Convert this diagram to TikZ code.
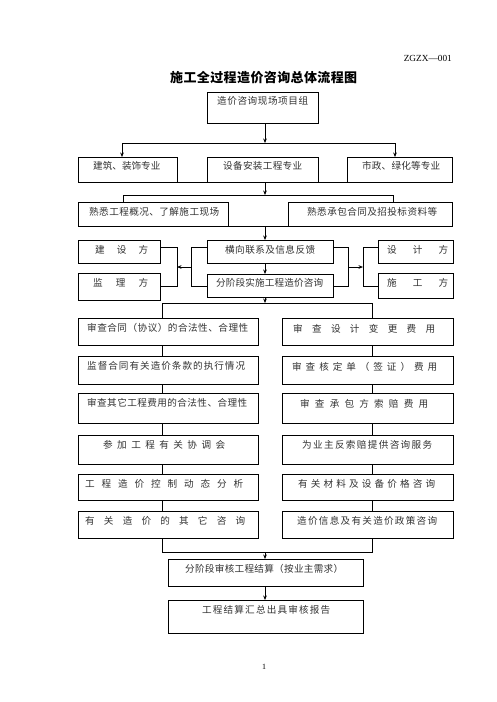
\documentclass[tikz,border=0pt]{standalone}
\usepackage{fontspec}
\setmainfont{Liberation Serif}
\newfontfamily\cjk{Noto Sans CJK SC}
\usetikzlibrary{arrows.meta}
\def\spreadaux#1#2\spreadend{#1\ifx\relax#2\relax\else\hfill\spreadaux#2\spreadend\fi}
\newcommand\spread[2]{\makebox[#1][s]{\spreadaux#2\spreadend}}
\tikzset{
  box/.style={draw, line width=0.7pt, inner sep=0pt, anchor=north west},
  txt/.style={inner sep=0pt, anchor=west, font=\cjk\fontsize{9.6}{11}\selectfont, text=black!80},
  ln/.style={line width=0.7pt},
  arr/.style={ln, -{Stealth[length=4.5pt,width=3.6pt]}},
}
\newcommand\bx[5]{\node[box, minimum width={#4pt-#2pt}, minimum height={#5pt-#3pt}] (#1) at (#2,#3) {};}
\newcommand\tx[5]{\node[txt] (#1) at (#2,#4) {\spread{\dimexpr#3pt-#2pt\relax}{#5}};}
\begin{document}
\begin{tikzpicture}[x=1pt,y=-1pt]
\useasboundingbox[fill=white] (0,0) rectangle (496,702);
% header
\node[anchor=east, inner sep=0pt, font=\fontsize{9.3}{11}\selectfont] (code) at (452,58) {ZGZX—001};
\node[anchor=west, inner sep=0pt, font=\cjk\bfseries\fontsize{13}{15}\selectfont] (title) at (170,78) {\spread{187pt}{施工全过程造价咨询总体流程图}};
% row 1
\bx{b1}{207}{92}{318}{123}
\tx{t1}{217}{308}{101}{造价咨询现场项目组}
% row 2
\bx{b2a}{78}{157}{177}{182}
\bx{b2b}{207}{157}{318}{182}
\bx{b2c}{347}{157}{452}{182}
\tx{t2a}{93}{160}{166}{建筑、装饰专业}
\tx{t2b}{223}{302}{166}{设备安装工程专业}
\tx{t2c}{362}{440}{166}{市政、绿化等专业}
% row 3
\bx{b3a}{78}{202}{228}{226}
\bx{b3b}{288}{202}{452}{226}
\tx{t3a}{89}{219}{212}{熟悉工程概况、了解施工现场}
\tx{t3b}{307}{437}{212}{熟悉承包合同及招投标资料等}
% row 4
\bx{m1}{207}{240}{333}{263}
\bx{m2}{207}{274}{333}{297}
\tx{tm1}{225}{315}{250}{横向联系及信息反馈}
\tx{tm2}{216}{323}{283}{分阶段实施工程造价咨询}
\bx{l1}{78}{240}{160}{263}
\bx{l2}{78}{273}{160}{300}
\tx{tl1}{95}{148}{250}{建设方}
\tx{tl2}{93}{148}{283}{监理方}
\bx{r1}{378}{240}{453}{263}
\bx{r2}{378}{273}{453}{298}
\tx{tr1}{387}{448}{250}{设计方}
\tx{tr2}{387}{448}{283}{施工方}
% columns
\bx{a1}{78}{318}{258}{345}
\bx{a2}{78}{356}{258}{384}
\bx{a3}{78}{393}{258}{423}
\bx{a4}{78}{435}{258}{464}
\bx{a5}{78}{474}{258}{500}
\bx{a6}{78}{511}{258}{538}
\bx{c1}{282}{318}{453}{345}
\bx{c2}{282}{356}{453}{384}
\bx{c3}{282}{393}{453}{423}
\bx{c4}{282}{435}{453}{464}
\bx{c5}{282}{474}{453}{500}
\bx{c6}{282}{511}{453}{538}
\tx{ta1}{87}{248}{328}{审查合同（协议）的合法性、合理性}
\tx{ta2}{87}{245}{366}{监督合同有关造价条款的执行情况}
\tx{ta3}{87}{247}{403}{审查其它工程费用的合法性、合理性}
\tx{ta4}{103}{225}{445}{参加工程有关协调会}
\tx{ta5}{85}{243}{484}{工程造价控制动态分析}
\tx{ta6}{85}{245}{521}{有关造价的其它咨询}
\tx{tc1}{293}{435}{329}{审查设计变更费用}
\tx{tc2}{292}{437}{367}{审查核定单（签证）费用}
\tx{tc3}{300}{428}{404}{审查承包方索赔费用}
\tx{tc4}{302}{432}{445}{为业主反索赔提供咨询服务}
\tx{tc5}{298}{435}{484}{有关材料及设备价格咨询}
\tx{tc6}{297}{437}{521}{造价信息及有关造价政策咨询}
% bottom
\bx{b5}{168}{559}{363}{586}
\bx{b6}{168}{600}{363}{633}
\tx{t5}{185}{343}{569}{分阶段审核工程结算（按业主需求）}
\tx{t6}{202}{330}{610}{工程结算汇总出具审核报告}
\node[inner sep=0pt, font=\fontsize{8}{10}\selectfont] (pg) at (264,667) {1};
% connectors: top
\coordinate (h1m) at (265,143);
\coordinate (h1l) at (122,143);
\coordinate (h1r) at (395,143);
\draw[arr] (b1.south -| h1m) -- (h1m);
\draw[ln] (h1l) -- (h1r);
\draw[arr] (h1l) -- (h1l |- b2a.north);
\draw[arr] (h1r) -- (h1r |- b2c.north);
\draw[ln] (b2a.south east) -- (b2b.south west);
\draw[ln] (b2b.south east) -- (b2c.south west);
\coordinate (h2m) at (265,195);
\coordinate (h2l) at (123,195);
\coordinate (h2r) at (393,195);
\draw[arr] (h2m |- b2b.south) -- (h2m);
\draw[ln] (h2l) -- (h2r);
\draw[ln] (h2l) -- (h2l |- b3a.north);
\draw[ln] (h2r) -- (h2r |- b3b.north);
\draw[ln] (b3a.south east) -- (b3b.south west);
\draw[arr] (h2m |- b3a.south) -- (h2m |- m1.north);
\draw[arr] (h2m |- m1.south) -- (h2m |- m2.north);
% side brackets
\coordinate (ly1) at (0,247);
\coordinate (ly2) at (0,286);
\coordinate (lyc) at (0,267);
\coordinate (lx1) at (177,0);
\coordinate (lx2) at (191,0);
\coordinate (rx1) at (348,0);
\coordinate (rx2) at (363,0);
\draw[ln] (l1.east |- ly1) -- (lx1 |- ly1) -- (lx1 |- ly2) -- (l2.east |- ly2);
\draw[ln] (m1.west |- ly1) -- (lx2 |- ly1) -- (lx2 |- ly2) -- (m2.west |- ly2);
\draw[arr] (lx2 |- lyc) -- (lx1 |- lyc);
\draw[ln] (m1.east |- ly1) -- (rx1 |- ly1) -- (rx1 |- ly2) -- (m2.east |- ly2);
\draw[ln] (r1.west |- ly1) -- (rx2 |- ly1) -- (rx2 |- ly2) -- (r2.west |- ly2);
\draw[arr] (rx1 |- lyc) -- (rx2 |- lyc);
% to columns
\coordinate (h3m) at (265,303);
\coordinate (h3l) at (162,303);
\coordinate (h3r) at (372,303);
\draw[arr] (h3m |- m2.south) -- (h3m);
\draw[ln] (h3l) -- (h3r);
\draw[ln] (h3l) -- (h3l |- a1.north);
\draw[ln] (h3r) -- (h3r |- c1.north);
\foreach \u/\v in {a1/a2,a2/a3,a3/a4,a4/a5,a5/a6}{\draw[ln] (h3l |- \u.south) -- (h3l |- \v.north);}
\foreach \u/\v in {c1/c2,c2/c3,c3/c4,c4/c5,c5/c6}{\draw[ln] (h3r |- \u.south) -- (h3r |- \v.north);}
\coordinate (h4m) at (265,552);
\coordinate (h4l) at (162,552);
\coordinate (h4r) at (372,552);
\draw[ln] (h4l |- a6.south) -- (h4l) -- (h4r) -- (h4r |- c6.south);
\draw[arr] (h4m) -- (h4m |- b5.north);
\draw[arr] (h4m |- b5.south) -- (h4m |- b6.north);
\end{tikzpicture}
\end{document}
